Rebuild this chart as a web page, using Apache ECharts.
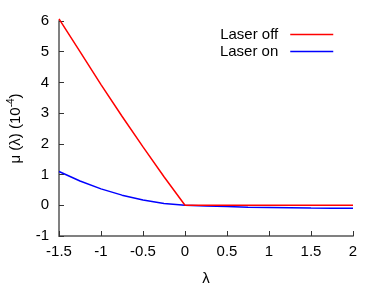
<!DOCTYPE html>
<html>
<head>
<meta charset="utf-8">
<script src="https://cdn.jsdelivr.net/npm/echarts@6/dist/echarts.min.js"></script>
<style>
html,body{margin:0;padding:0;background:#fff;}
#chart{width:382px;height:287px;}
</style>
</head>
<body>
<div id="chart"></div>
<script>
var lambdaVals = [-1.5, -1.25, -1.0, -0.75, -0.5, -0.25, 0, 0.25, 0.5, 0.75, 1.0, 1.25, 1.5, 1.75, 2.0];
var laserOff = [6.07, 5.00, 3.93, 2.90, 1.90, 0.93, 0, 0, 0, 0, 0, 0, 0, 0, 0];
var laserOn = [1.10, 0.79, 0.535, 0.33, 0.17, 0.06, 0, -0.02, -0.04, -0.06, -0.07, -0.08, -0.09, -0.095, -0.10];
var seriesNames = ['Laser off', 'Laser on'];
var xTitle = 'λ';
var yTitle = 'μ (λ) (10{sup|-4})';

function pairs(xs, ys) { return xs.map(function (x, i) { return [x, ys[i]]; }); }

var FONT = 'Liberation Sans';
var chart = echarts.init(document.getElementById('chart'), null, {renderer: 'canvas'});
chart.setOption({
  animation: false,
  backgroundColor: '#fff',
  textStyle: {fontFamily: FONT},
  grid: {left: 59, right: 29, top: 21, bottom: 51, outerBoundsMode: 'none'},
  legend: {
    orient: 'vertical',
    right: 43,
    top: 22,
    align: 'right',
    itemWidth: 43,
    itemHeight: 14,
    itemGap: 2,
    itemStyle: {opacity: 0},
    lineStyle: {width: 1.5},
    textStyle: {fontFamily: FONT, fontSize: 15, color: '#000', padding: [0, 7, 0, 0], lineHeight: 15},
    data: seriesNames
  },
  xAxis: {
    type: 'value', min: -1.5, max: 2, interval: 0.5,
    name: xTitle, nameLocation: 'middle', nameGap: 35,
    nameTextStyle: {fontFamily: FONT, fontSize: 15, color: '#000'},
    axisLine: {onZero: false, lineStyle: {color: '#808080', width: 2}},
    axisTick: {inside: true, length: 5, lineStyle: {color: '#333', width: 1}},
    axisLabel: {fontFamily: FONT, fontSize: 15, color: '#000', margin: 8},
    splitLine: {show: false}
  },
  yAxis: {
    type: 'value', min: -1, max: 6, interval: 1,
    name: yTitle, nameLocation: 'middle', nameGap: 34, nameRotate: 90,
    nameTextStyle: {fontFamily: FONT, fontSize: 15, color: '#000',
      rich: {sup: {fontFamily: FONT, fontSize: 10, color: '#000', verticalAlign: 'top', padding: [0, 0, 9, 0]}}},
    axisLine: {show: true, onZero: false, lineStyle: {color: '#808080', width: 2}},
    axisTick: {show: true, inside: true, length: 5, lineStyle: {color: '#333', width: 1}},
    axisLabel: {fontFamily: FONT, fontSize: 15, color: '#000', margin: 10},
    splitLine: {show: false}
  },
  series: [
    {name: seriesNames[0], type: 'line', data: pairs(lambdaVals, laserOff), showSymbol: false, symbol: 'none', clip: false,
     lineStyle: {color: '#ff0000', width: 1.5}, itemStyle: {color: '#ff0000'}, z: 3},
    {name: seriesNames[1], type: 'line', data: pairs(lambdaVals, laserOn), showSymbol: false, symbol: 'none', clip: false,
     lineStyle: {color: '#0000ff', width: 1.5}, itemStyle: {color: '#0000ff'}, z: 2}
  ]
});
</script>
</body>
</html>
